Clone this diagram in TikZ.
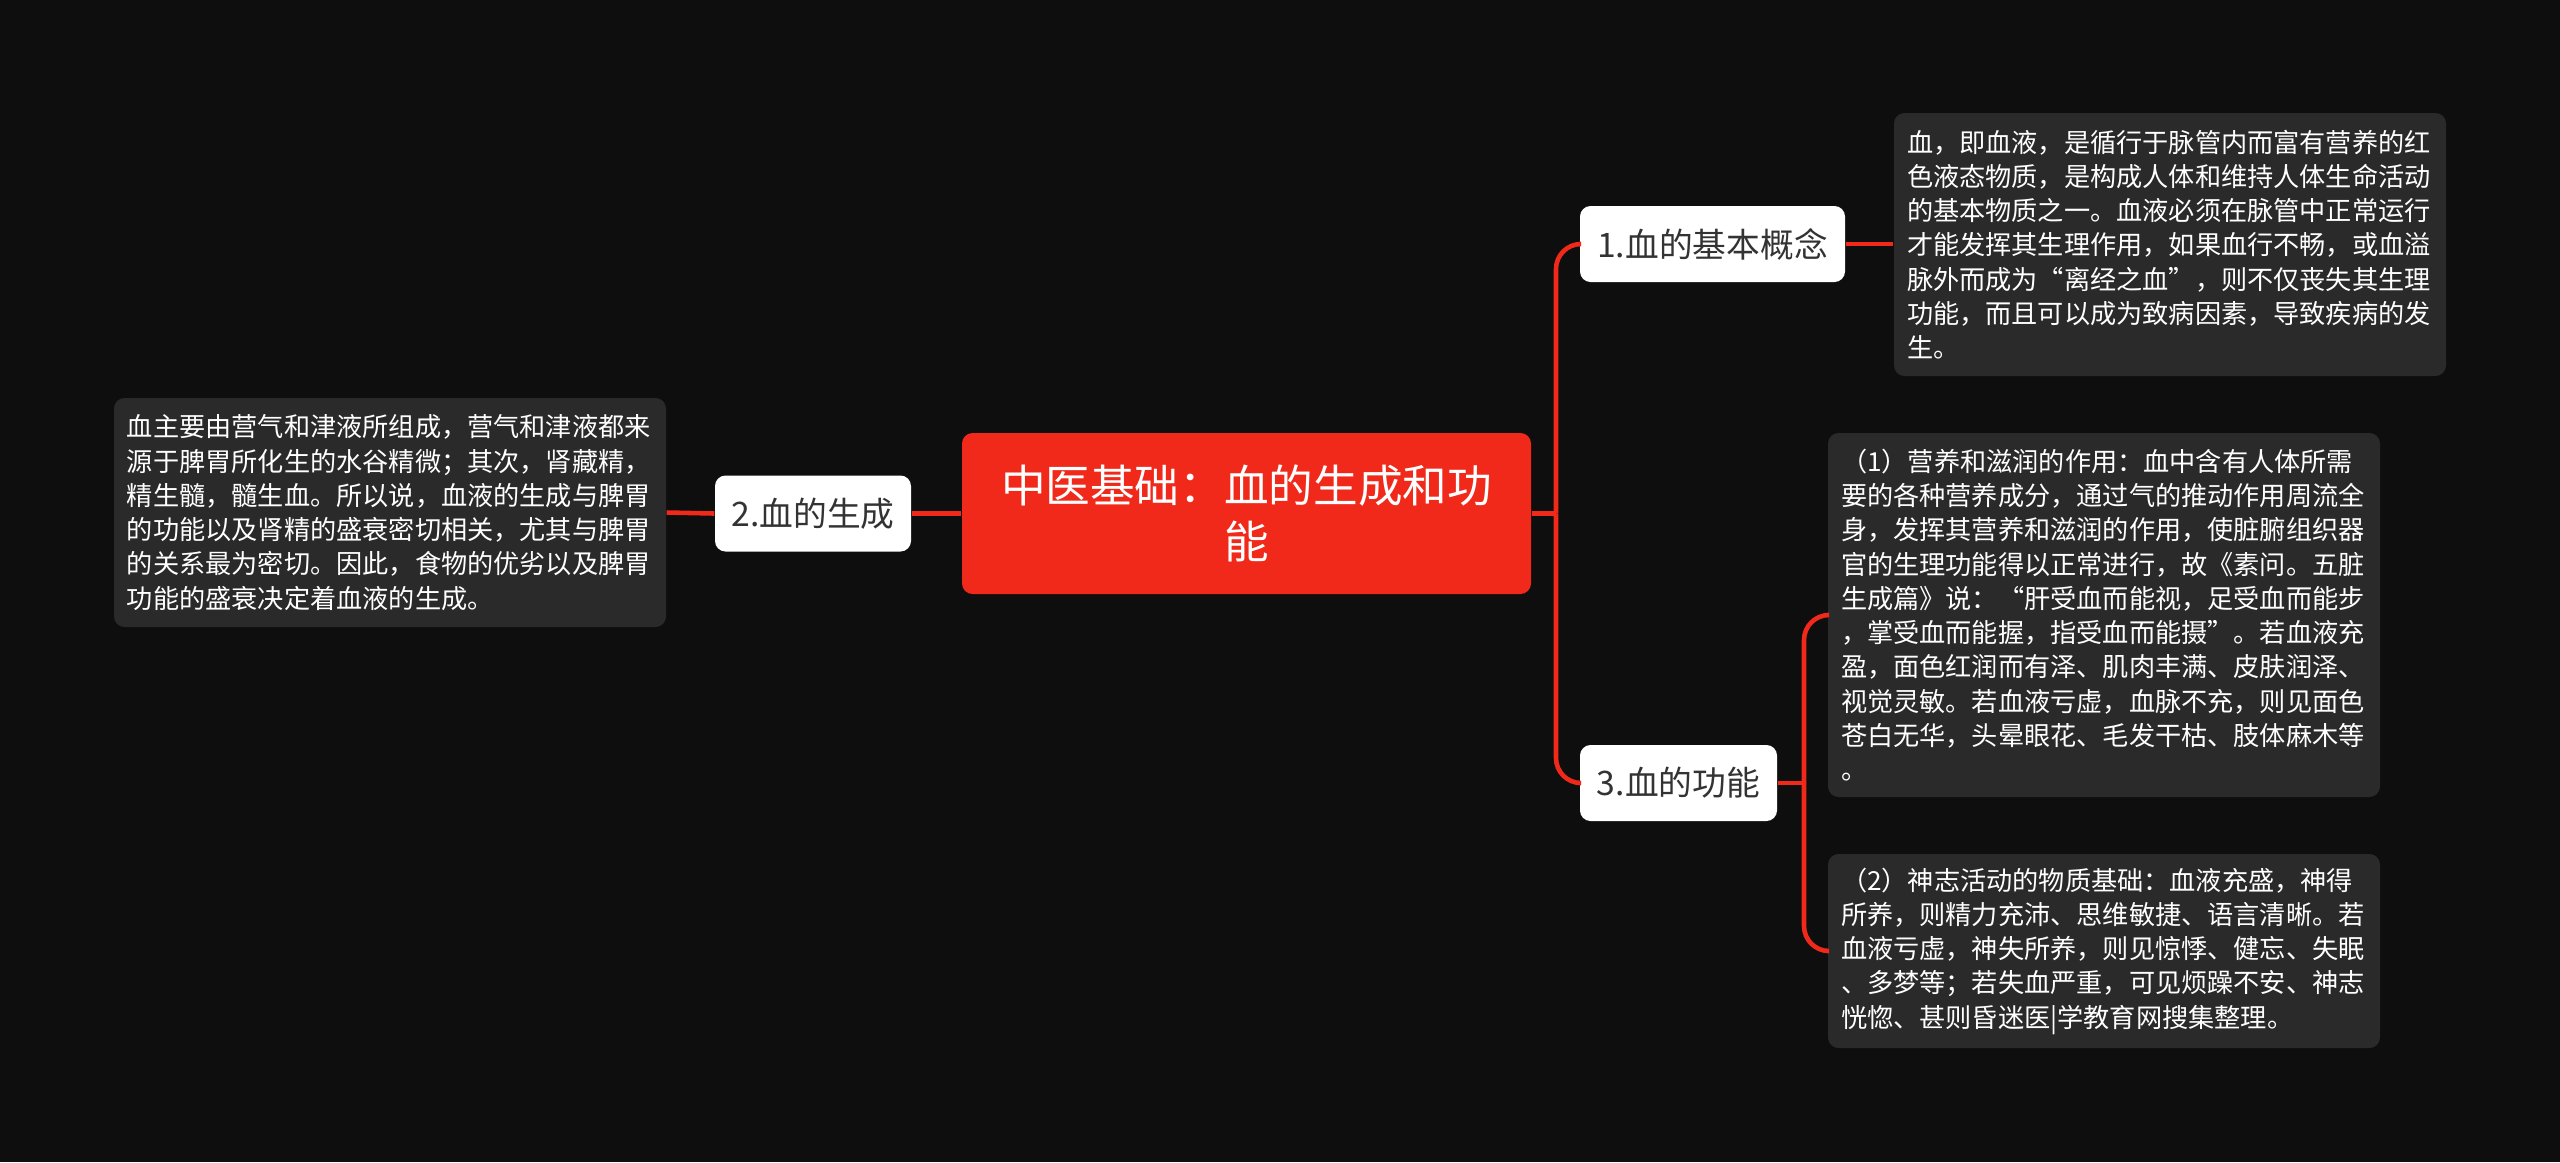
\documentclass[tikz,border=0pt]{standalone}
\usepackage{fontspec}
\newfontfamily\cjkfont{Noto Sans CJK SC}
\definecolor{bgdark}{HTML}{0E0E0E}
\definecolor{rootred}{HTML}{F0291A}
\definecolor{notegray}{HTML}{2A2A2A}
\definecolor{labelink}{HTML}{333333}

\begin{document}
\begin{tikzpicture}[
  link/.style={draw=rootred, line width=1.3pt},
  root/.style={fill=rootred, rounded corners=3pt, align=center, text=white,
               font=\cjkfont\fontsize{12.7}{15.8}\selectfont,
               minimum width=5.69cm, minimum height=1.61cm},
  topic/.style={fill=white, rounded corners=3pt, text=labelink,
                font=\cjkfont\fontsize{9.6}{12}\selectfont, minimum height=0.76cm},
  note/.style={fill=notegray, rounded corners=3pt, text=white, align=left,
               font=\cjkfont\fontsize{7.45}{9.75}\selectfont,
               text width=5.26cm, inner xsep=0.13cm},
]
\fill[bgdark] (0,0) rectangle (25.6,-11.62);
\useasboundingbox (0,0) rectangle (25.6,-11.62);

\node[root] (root) at (12.465,-5.135) {中医基础：血的生成和功\\能};

\node[topic, minimum width=1.96cm] (gen) at (8.13,-5.135) {2.血的生成};
\node[note, minimum height=2.29cm] (gennote) at (3.90,-5.125)
  {血主要由营气和津液所组成，营气和津液都来\\
   源于脾胃所化生的水谷精微；其次，肾藏精，\\
   精生髓，髓生血。所以说，血液的生成与脾胃\\
   的功能以及肾精的盛衰密切相关，尤其与脾胃\\
   的关系最为密切。因此，食物的优劣以及脾胃\\
   功能的盛衰决定着血液的生成。};

\node[topic, minimum width=2.65cm] (concept) at (17.125,-2.44) {1.血的基本概念};
\node[note, minimum height=2.63cm] (conceptnote) at (21.70,-2.445)
  {血，即血液，是循行于脉管内而富有营养的红\\
   色液态物质，是构成人体和维持人体生命活动\\
   的基本物质之一。血液必须在脉管中正常运行\\
   才能发挥其生理作用，如果血行不畅，或血溢\\
   脉外而成为“离经之血”，则不仅丧失其生理\\
   功能，而且可以成为致病因素，导致疾病的发\\
   生。};

\node[topic, minimum width=1.97cm] (func) at (16.785,-7.83) {3.血的功能};
\node[note, minimum height=3.64cm] (funcnourish) at (21.04,-6.15)
  {（1）营养和滋润的作用：血中含有人体所需\\
   要的各种营养成分，通过气的推动作用周流全\\
   身，发挥其营养和滋润的作用，使脏腑组织器\\
   官的生理功能得以正常进行，故《素问。五脏\\
   生成篇》说：“肝受血而能视，足受血而能步\\
   ，掌受血而能握，指受血而能摄”。若血液充\\
   盈，面色红润而有泽、肌肉丰满、皮肤润泽、\\
   视觉灵敏。若血液亏虚，血脉不充，则见面色\\
   苍白无华，头晕眼花、毛发干枯、肢体麻木等\\
   。};
\node[note, minimum height=1.94cm] (funcmind) at (21.04,-9.51)
  {（2）神志活动的物质基础：血液充盛，神得\\
   所养，则精力充沛、思维敏捷、语言清晰。若\\
   血液亏虚，神失所养，则见惊悸、健忘、失眠\\
   、多梦等；若失血严重，可见烦躁不安、神志\\
   恍惚、甚则昏迷医|学教育网搜集整理。};

% branches
\coordinate (rootjoin) at (15.56,-5.135);
\coordinate (funcjoin) at (18.04,-7.83);
\draw[link] (root.west) -- (gen.east);
\draw[link] (gen.west) -- (gennote.east);
\draw[link] (root.east) -- (rootjoin);
\draw[link, rounded corners=0.25cm] (rootjoin) |- (concept.west);
\draw[link, rounded corners=0.25cm] (rootjoin) |- (func.west);
\draw[link] (concept.east) -- (conceptnote.west |- concept.east);
\draw[link] (func.east) -- (funcjoin);
\draw[link, rounded corners=0.25cm] (funcjoin) |- (funcnourish.west);
\draw[link, rounded corners=0.25cm] (funcjoin) |- (funcmind.west);
\end{tikzpicture}
\end{document}
